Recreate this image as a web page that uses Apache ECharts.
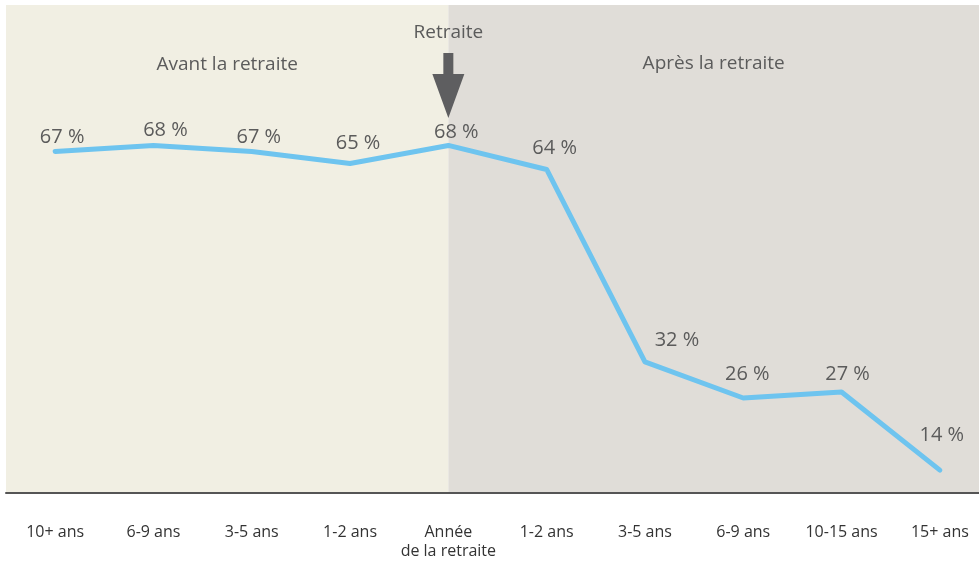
<!DOCTYPE html>
<html>
<head>
<meta charset="utf-8">
<script src="https://cdn.jsdelivr.net/npm/echarts@6/dist/echarts.min.js"></script>
<style>
  html, body { margin: 0; padding: 0; background: #fff; }
  #chart { width: 979px; height: 563px; }
</style>
</head>
<body>
<div id="chart"></div>
<script>
// catégories (années avant / après la retraite)
const categories = ['10+ ans', '6-9 ans', '3-5 ans', '1-2 ans', 'Année\nde la retraite',
  '1-2 ans', '3-5 ans', '6-9 ans', '10-15 ans', '15+ ans'];
// valeurs en %
const values = [67, 68, 67, 65, 68, 64, 32, 26, 27, 14];
const retirementIndex = 4;
const sectionTitles = ['Avant la retraite', 'Après la retraite'];
const markerTitle = 'Retraite';

// décalage des étiquettes [dx, dy]
const labelOffsets = [[7, 1], [12, 0], [7, 1], [8, -5], [8, 2], [8, -6], [32, -6], [4, -8], [6, -2], [2, -19]];

const fontFamily = '"Open Sans", "Noto Sans", sans-serif';
const leftColor = '#f1efe3';
const rightColor = '#e0ddd8';
const textColor = '#5b5b5b';
const lineColor = '#6ec4ef';

let myChart = echarts.init(document.getElementById('chart'));

myChart.setOption({
  animation: false,
  backgroundColor: '#fff',
  textStyle: { fontFamily: fontFamily },
  grid: { left: 6, width: 983, top: 5, height: 488, outerBoundsMode: 'none', containLabel: false },
  xAxis: {
    type: 'category',
    data: categories,
    boundaryGap: true,
    axisLine: { lineStyle: { color: '#555', width: 2 } },
    axisTick: { show: false },
    axisLabel: {
      color: '#333',
      fontSize: 16,
      lineHeight: 19,
      margin: 30,
      interval: 0,
      fontFamily: fontFamily
    },
    z: 5
  },
  yAxis: {
    type: 'value',
    min: 10.2,
    max: 91.35,
    show: false,
    splitLine: { show: false }
  },
  series: [
    {
      type: 'line',
      data: values,
      symbol: 'circle',
      symbolSize: 1,
      showSymbol: true,
      itemStyle: { color: lineColor },
      lineStyle: { color: lineColor, width: 5, cap: 'round', join: 'round' },
      labelLayout: function (params) {
        const o = labelOffsets[params.dataIndex] || [0, 0];
        return { dx: o[0], dy: o[1], hideOverlap: false };
      },
      label: {
        show: true,
        position: 'top',
        distance: 5,
        fontSize: 20,
        color: textColor,
        fontFamily: fontFamily,
        formatter: function (p) { return p.value + ' %'; }
      },
      z: 3
    }
  ]
});

// fonds et annotations placés à partir des axes
const pTopLeft = myChart.convertToPixel({ gridIndex: 0 }, [0, 91.35]);
const pRet = myChart.convertToPixel({ gridIndex: 0 }, [retirementIndex, 10.2]);
const areaTop = pTopLeft[1];
const areaBottom = pRet[1];
const step = myChart.convertToPixel({ xAxisIndex: 0 }, 1) - pTopLeft[0];
const areaLeft = pTopLeft[0] - step / 2;
const areaRight = 979;
const rx = pRet[0];

myChart.setOption({
  graphic: [
    { type: 'rect', z: -10, shape: { x: areaLeft, y: areaTop, width: rx - areaLeft, height: areaBottom - areaTop }, style: { fill: leftColor } },
    { type: 'rect', z: -10, shape: { x: rx, y: areaTop, width: areaRight - rx + 20, height: areaBottom - areaTop }, style: { fill: rightColor } },
    {
      type: 'text', x: (areaLeft + rx) / 2, y: 65,
      style: { text: sectionTitles[0], fill: textColor, font: '19px ' + fontFamily, align: 'center', verticalAlign: 'middle' }
    },
    {
      type: 'text', x: (rx + areaRight) / 2, y: 64,
      style: { text: sectionTitles[1], fill: textColor, font: '19px ' + fontFamily, align: 'center', verticalAlign: 'middle' }
    },
    {
      type: 'text', x: rx, y: 33,
      style: { text: markerTitle, fill: textColor, font: '19px ' + fontFamily, align: 'center', verticalAlign: 'middle' }
    },
    {
      // flèche vers le bas
      type: 'polygon', x: rx, y: 0,
      shape: { points: [[-5, 53], [5, 53], [5, 74], [16, 74], [0, 118], [-16, 74], [-5, 74]] },
      style: { fill: '#5e5e60' }
    }
  ]
});
</script>
</body>
</html>
